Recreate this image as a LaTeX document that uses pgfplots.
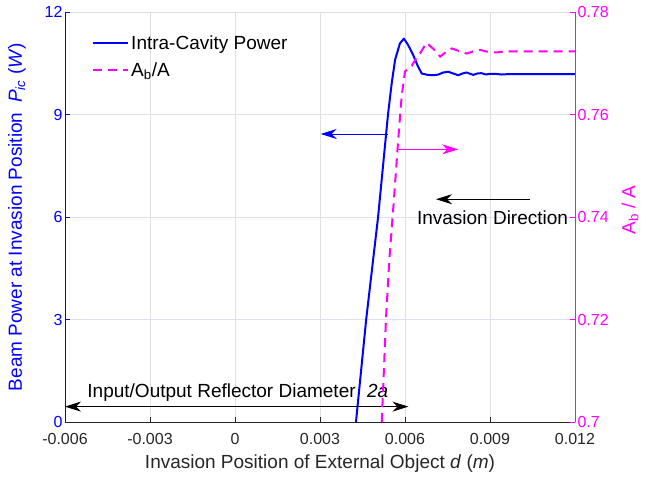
\documentclass[border=0pt]{standalone}
\usepackage{fontspec}
\setmainfont{Liberation Sans}
\usepackage{pgfplots}
\pgfplotsset{compat=1.18}
\usetikzlibrary{arrows.meta}
\definecolor{mblue}{rgb}{0,0,1}
\definecolor{mmag}{rgb}{1,0,1}
\definecolor{axgray}{rgb}{0.15,0.15,0.15}
\definecolor{gridv}{rgb}{0.88,0.88,0.88}
\definecolor{gridh}{rgb}{0.87,0.87,0.96}
\newcommand{\tickfont}{\fontsize{16bp}{19bp}\selectfont}
\newcommand{\labfont}{\fontsize{19bp}{23bp}\selectfont}
\begin{document}
\begin{tikzpicture}
\useasboundingbox (-65bp,-56bp) rectangle (581bp,422bp);
\pgfplotsset{
  base/.style={scale only axis, width=510bp, height=410bp, at={(0,0)}, anchor=south west,
    xmin=-0.006, xmax=0.012, clip=false, scaled x ticks=false, scaled y ticks=false,
    /pgf/number format/assume math mode=true,
    major tick length=5bp, tick align=inside,
    ticklabel style={font=\tickfont}, label style={font=\labfont}}
}
\begin{axis}[base, ymin=0, ymax=12, axis y line*=left, axis x line*=bottom,
  xtick={-0.006,-0.003,0,0.003,0.006,0.009,0.012},
  xticklabels={-0.006,-0.003,0,0.003,0.006,0.009,0.012},
  ytick={0,3,6,9,12}, yticklabels={0,3,6,9,12},
  xmajorgrids, ymajorgrids,
  x grid style={gridv, line width=0.7bp}, y grid style={gridh, line width=0.7bp},
  x axis line style={axgray, line width=0.7bp, -}, y axis line style={mblue, line width=0.7bp, -},
  xtick style={axgray, line width=0.7bp}, ytick style={mblue, line width=0.7bp},
  xticklabel style={text=axgray, yshift=-8bp}, yticklabel style={text=mblue, xshift=1bp},
  xlabel={Invasion Position of External Object \textit{d} (\textit{m})},
  ylabel={Beam Power at Invasion Position\hspace{0.5em}\textit{P}\textsubscript{\textit{ic}} (\textit{W})},
  xlabel style={at={(axis description cs:0.5,-0.102)}, anchor=center, text=axgray},
  ylabel style={at={(axis description cs:-0.094,0.5)}, anchor=center, text=mblue},
]
\addplot[mblue, line width=2bp, line join=round] coordinates {
(0.00427,0) (0.00463,3.0) (0.00505,6.0) (0.00540,9.0) (0.00553,9.91) (0.00565,10.6)
(0.00582,11.08) (0.00596,11.22) (0.00610,11.05) (0.00629,10.74) (0.00645,10.42)
(0.00659,10.20) (0.00680,10.16) (0.00700,10.15) (0.00718,10.17) (0.00735,10.23)
(0.00753,10.25) (0.00770,10.20) (0.00788,10.15) (0.00803,10.20) (0.00818,10.23)
(0.00830,10.19) (0.00841,10.16) (0.00855,10.20) (0.00870,10.21) (0.00885,10.17)
(0.00900,10.19) (0.00920,10.19) (0.00940,10.17) (0.00960,10.18) (0.012,10.18)
};
\draw[mblue, line width=0.8bp, -{Stealth[length=16bp,width=10bp,inset=5bp]}] (axis cs:0.00541,8.43) -- (axis cs:0.003025,8.43);
\draw[mmag, line width=0.8bp, -{Stealth[length=16bp,width=10bp,inset=5bp]}] (axis cs:0.00571,7.98) -- (axis cs:0.00788,7.98);
\draw[black, line width=0.8bp, -{Stealth[length=16bp,width=10bp,inset=5bp]}] (axis cs:0.010412,6.52) -- (axis cs:0.007094,6.52);
\node[font=\labfont, text=black] at (axis cs:0.00909,5.97) {Invasion Direction};
\draw[black, line width=0.8bp, {Stealth[length=16bp,width=10bp,inset=5bp]}-{Stealth[length=16bp,width=10bp,inset=5bp]}] (axis cs:-0.006,0.45) -- (axis cs:0.00612,0.45);
\node[font=\labfont, text=black] at (axis cs:0.0001,0.86) {Input/Output Reflector Diameter\hspace{0.6em}\textit{2a}};
\end{axis}
\begin{axis}[base, ymin=0.7, ymax=0.78, axis y line*=right, axis x line=none,
  ytick={0.7,0.72,0.74,0.76,0.78}, yticklabels={0.7,0.72,0.74,0.76,0.78},
  y axis line style={mmag, line width=0.7bp, -}, ytick style={mmag, line width=0.7bp},
  yticklabel style={text=mmag, xshift=-1bp},
  ylabel={A\textsubscript{b} / A},
  ylabel style={at={(axis description cs:1.108,0.517)}, anchor=center, text=mmag},
  legend cell align=left,
  legend style={at={(axis description cs:0.053,0.948)}, anchor=north west, draw=none, fill=none,
    font=\labfont, inner sep=0pt, row sep=8bp},
  legend image code/.code={\draw[#1] (0bp,0bp) -- (35bp,0bp);},
]
\addlegendimage{mblue, line width=2bp}
\addlegendentry{Intra-Cavity Power}
\addplot[mmag, line width=2bp, dash pattern=on 9bp off 6bp] coordinates {
(0.00518,0.700) (0.00533,0.7203) (0.00545,0.732) (0.00559,0.742) (0.00576,0.755)
(0.00588,0.7635) (0.00600,0.7684) (0.00612,0.7690) (0.00624,0.7695) (0.00640,0.7710)
(0.00653,0.7719) (0.00676,0.7740) (0.00700,0.7728) (0.00724,0.7713) (0.00745,0.7722)
(0.00765,0.7729) (0.00790,0.7724) (0.00818,0.7719) (0.00840,0.7723) (0.00865,0.7726)
(0.00895,0.7722) (0.00924,0.7721) (0.00950,0.7723) (0.012,0.7723)
};
\addlegendentry{A\textsubscript{b}/A}
\end{axis}
\end{tikzpicture}
\end{document}
